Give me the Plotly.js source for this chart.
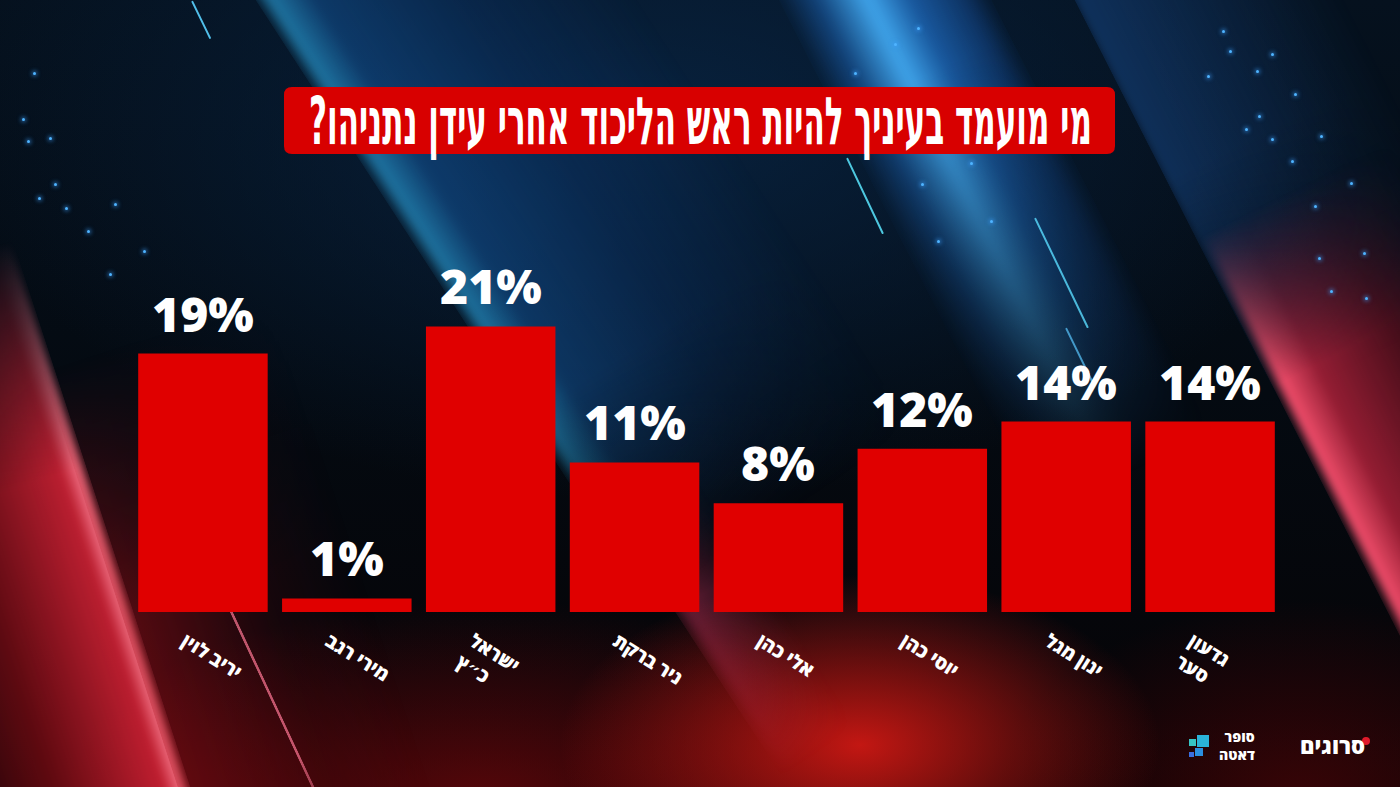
<!DOCTYPE html>
<html><head><meta charset="utf-8">
<script src="https://cdn.plot.ly/plotly-3.0.1.min.js"></script>
<style>
html,body{margin:0;padding:0;width:1400px;height:787px;overflow:hidden;background:#03070d;}
#bg{position:absolute;left:0;top:0;width:1400px;height:787px;overflow:hidden;
 background:
  radial-gradient(ellipse 300px 170px at 860px 745px, rgba(215,25,20,0.9), rgba(215,25,20,0) 100%),
  radial-gradient(ellipse 420px 200px at 480px 800px, rgba(120,8,12,0.7), rgba(120,8,12,0) 100%),
  radial-gradient(ellipse 300px 200px at 1300px 800px, rgba(90,5,8,0.6), rgba(90,5,8,0) 100%),
  radial-gradient(ellipse 700px 380px at 650px 120px, rgba(8,35,65,0.9), rgba(8,35,65,0) 100%),
  linear-gradient(to bottom, #05111e 0%, #040a11 50%, #060305 100%);}
.band{position:absolute;top:-300px;height:1400px;transform-origin:center center;}
.line{position:absolute;height:2px;transform-origin:0 50%;border-radius:1px;}
.dot{position:absolute;width:3px;height:3px;border-radius:50%;background:#4fb4ff;box-shadow:0 0 4px 1px rgba(60,160,255,0.7);}
#chart{position:absolute;left:0;top:0;width:1400px;height:787px;}
</style></head>
<body>
<div id="bg">
 <!-- left red -->
 <div class="band" style="left:-202px;width:260px;transform:rotate(-18deg);
   background:linear-gradient(to right,rgba(120,5,15,0) 0%,rgba(170,15,25,0.55) 50%,rgba(220,35,55,0.85) 90%,rgba(255,120,140,0.95) 97%,rgba(255,100,120,0) 100%);
   -webkit-mask-image:linear-gradient(to bottom,transparent 41%,black 58%);filter:blur(3px);"></div>
 <div class="band" style="left:58px;width:240px;transform:rotate(-18deg);
   background:linear-gradient(to right,rgba(170,15,25,0.5),rgba(120,10,20,0.15) 60%,rgba(120,10,20,0));
   -webkit-mask-image:linear-gradient(to bottom,transparent 45%,black 64%);filter:blur(6px);"></div>
 <div class="band" style="left:131px;width:3px;transform:rotate(-25deg);
   background:rgba(255,120,150,0.7);
   -webkit-mask-image:linear-gradient(to bottom,transparent 60%,black 67%,black 78%,transparent 86%);"></div>
 <!-- center blue -->
 <div class="band" style="left:546px;width:320px;transform:rotate(-33deg);
   background:linear-gradient(to right,rgba(60,200,255,0) 0%,rgba(50,190,255,0.55) 4%,rgba(25,110,200,0.38) 16%,rgba(15,70,140,0.28) 55%,rgba(15,60,120,0) 100%);
   -webkit-mask-image:linear-gradient(to bottom,black 0%,black 44%,transparent 60%);filter:blur(4px);"></div>
 <div class="band" style="left:546px;width:90px;transform:rotate(-33deg);
   background:linear-gradient(to right,rgba(230,60,110,0) 0%,rgba(230,60,110,0.45) 10%,rgba(200,30,60,0) 100%);
   -webkit-mask-image:linear-gradient(to bottom,transparent 58%,black 66%,transparent 80%);filter:blur(6px);"></div>
 <div class="band" style="left:994px;width:190px;transform:rotate(-27deg);
   background:linear-gradient(to right,rgba(40,140,255,0) 0%,rgba(40,140,255,0.35) 18%,rgba(70,180,255,0.9) 42%,rgba(40,140,250,0.55) 62%,rgba(30,110,220,0.3) 88%,rgba(30,110,220,0) 100%);
   -webkit-mask-image:linear-gradient(to bottom,black 0%,black 24%,transparent 56%);filter:blur(6px);"></div>
 <!-- right band -->
 <div class="band" style="left:1293px;width:240px;transform:rotate(-27deg);
   background:linear-gradient(to right,rgba(30,90,170,0.4),rgba(30,90,170,0));
   -webkit-mask-image:linear-gradient(to bottom,black 0%,black 28%,transparent 46%);filter:blur(4px);"></div>
 <div class="band" style="left:1293px;width:220px;transform:rotate(-27deg);
   background:linear-gradient(to right,rgba(255,90,120,0) 0%,rgba(250,80,110,0.95) 5%,rgba(225,40,70,0.65) 22%,rgba(180,20,40,0.4) 60%,rgba(180,20,40,0) 100%);
   -webkit-mask-image:linear-gradient(to bottom,transparent 33%,black 45%,black 68%,rgba(0,0,0,0.4) 80%);filter:blur(3px);"></div>
 <div class="line" style="left:192px;top:0px;width:42px;transform:rotate(64deg);background:rgba(90,210,255,0.9);"></div>
 <div class="line" style="left:847px;top:157px;width:84px;transform:rotate(64.6deg);background:rgba(90,230,255,0.85);"></div>
 <div class="line" style="left:1035px;top:217px;width:122px;transform:rotate(64.3deg);background:rgba(90,220,255,0.8);"></div>
 <div class="line" style="left:1066px;top:327px;width:60px;transform:rotate(64deg);background:rgba(90,200,255,0.7);"></div>
</div>
<div id="chart"></div>
<script>
// ---- data ----
const candidates = ['יריב לוין', 'מירי רגב', 'ישראל<br>כ״ץ', 'ניר ברקת', 'אלי כהן', 'יוסי כהן', 'ינון מגל', 'גדעון<br>סער'];
const support = [19, 1, 21, 11, 8, 12, 14, 14];
const chartTitle = 'מי מועמד בעיניך להיות ראש הליכוד אחרי עידן נתניהו?\u200F';
const sourceLabel = 'סרוגים';
const dataLabel = 'סופר<br>דאטה';

// ---- decorative sparkles ----
const sparkles = [[33,72],[22,118],[49,137],[27,140],[54,183],[38,197],[65,207],[114,203],[87,230],[109,273],[143,250],
 [1222,30],[1229,50],[1256,70],[1271,53],[1207,75],[1245,128],[1258,115],[1271,138],[1320,135],[1294,93],[1291,160],
 [1314,205],[1318,257],[1330,290],[1350,182],[1363,252],[1365,297],[917,27],[894,43],[921,183],[854,72],[970,162],[990,220],[937,240]];
const bg = document.getElementById('bg');
sparkles.forEach(([sx, sy]) => { const d = document.createElement('div'); d.className = 'dot'; d.style.left = sx + 'px'; d.style.top = sy + 'px'; bg.appendChild(d); });

// ---- layout helpers (pixel -> paper) ----
const M = {l:131, r:118, t:272, b:175};
const W = 1400, H = 787;
const PW = W - M.l - M.r, PH = H - M.t - M.b;
const px = x => (x - M.l) / PW;
const py = y => (H - M.b - y) / PH;

function roundRect(x0, y0, x1, y1, r) {
  const rx = r / PW, ry = r / PH;
  const X0 = px(x0), X1 = px(x1), Y0 = py(y0), Y1 = py(y1);
  return `M ${X0+rx},${Y0} L ${X1-rx},${Y0} Q ${X1},${Y0} ${X1},${Y0-ry} L ${X1},${Y1+ry} Q ${X1},${Y1} ${X1-rx},${Y1} L ${X0+rx},${Y1} Q ${X0},${Y1} ${X0},${Y1+ry} L ${X0},${Y0-ry} Q ${X0},${Y0} ${X0+rx},${Y0} Z`;
}

const trace = {
  type: 'bar',
  x: candidates,
  y: support,
  marker: {color: '#e00000', line: {width: 0}},
  hoverinfo: 'none'
};

const shapes = [
  {type: 'path', xref: 'paper', yref: 'paper', path: roundRect(284, 87, 1115, 154, 8),
   fillcolor: '#d80000', line: {width: 0}, layer: 'above'},
  {type:'rect', xref:'paper', yref:'paper', x0:px(1197), x1:px(1209), y0:py(747), y1:py(735), fillcolor:'#2ab3d9', line:{width:0}},
  {type:'rect', xref:'paper', yref:'paper', x0:px(1189), x1:px(1196), y0:py(746), y1:py(739), fillcolor:'#37c5c5', line:{width:0}},
  {type:'rect', xref:'paper', yref:'paper', x0:px(1195), x1:px(1203), y0:py(756), y1:py(748), fillcolor:'#2a8fe0', line:{width:0}},
  {type:'rect', xref:'paper', yref:'paper', x0:px(1189), x1:px(1194), y0:py(757), y1:py(752), fillcolor:'#3a6fe0', line:{width:0}},
  {type:'circle', xref:'paper', yref:'paper', x0:px(1362), x1:px(1370), y0:py(745), y1:py(737), fillcolor:'#e01a2a', line:{width:0}}
];

const valueLabels = candidates.map((c, i) => ({
  x: c, y: support[i], xref:'x', yref:'y', text: support[i] + '%', showarrow:false,
  yanchor:'bottom', xanchor:'center', yshift: 6,
  font:{family:'Open Sans, DejaVu Sans, sans-serif', size:48, color:'#ffffff', weight:800}
}));

const annotations = valueLabels.concat([
  {xref:'paper', yref:'paper', x: px(700), y: py(121), text: chartTitle, showarrow:false,
   font:{family:'DejaVu Sans, sans-serif', size:66, color:'#ffffff', weight:700},
   xanchor:'center', yanchor:'middle'},
  {xref:'paper', yref:'paper', x: px(1332), y: py(745), text: sourceLabel, showarrow:false,
   font:{family:'Open Sans, DejaVu Sans, sans-serif', size:22, color:'#ffffff', weight:800},
   xanchor:'center', yanchor:'middle'},
  {xref:'paper', yref:'paper', x: px(1237), y: py(745), text: dataLabel, showarrow:false,
   font:{family:'Open Sans, DejaVu Sans, sans-serif', size:14, color:'#ffffff', weight:800},
   xanchor:'center', yanchor:'middle', align:'right'}
]);

const layout = {
  width: W, height: H,
  margin: {l:M.l, r:M.r, t:M.t, b:M.b, pad:0},
  paper_bgcolor: 'rgba(0,0,0,0)',
  plot_bgcolor: 'rgba(0,0,0,0)',
  showlegend: false,
  bargap: 0.1,
  xaxis: {
    type:'category', showgrid:false, zeroline:false, showline:false, ticks:'',
    tickangle: 32, automargin:false, ticklabelshift: -18, ticklabelstandoff: 14,
    tickfont:{family:'Open Sans, DejaVu Sans, sans-serif', size:19, color:'#ffffff', weight:800}
  },
  yaxis: {range:[0,25], visible:false, fixedrange:true},
  shapes: shapes,
  annotations: annotations
};

Plotly.newPlot('chart', [trace], layout, {staticPlot:true, displayModeBar:false}).then(() => {
  // condense the title horizontally to match the narrow headline face
  document.querySelectorAll('#chart text.annotation-text').forEach(t => {
    if (t.textContent.indexOf('הליכוד') >= 0) {
      const b = t.getBBox();
      const sx = 783 / b.width;
      const cx = b.x + b.width / 2;
      t.setAttribute('transform', `translate(${cx * (1 - sx)},0) scale(${sx},1)`);
    }
  });
});
</script>
</body></html>
